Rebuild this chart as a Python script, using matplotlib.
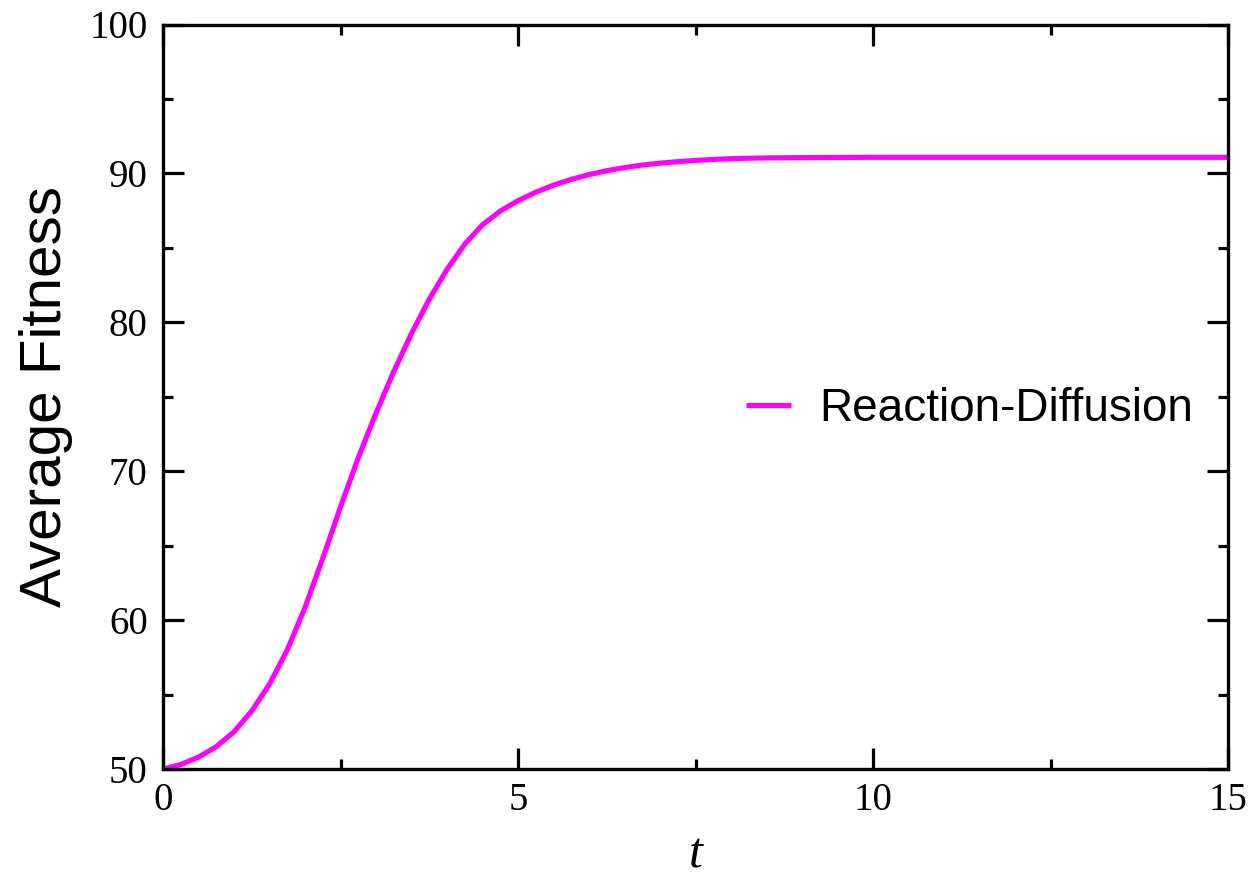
import matplotlib
matplotlib.use("Agg")
import matplotlib.pyplot as plt
from matplotlib.ticker import MultipleLocator

# Data
t_values = [0.0, 0.25, 0.5, 0.75, 1.0, 1.25, 1.5, 1.75, 2.0, 2.25, 2.5, 2.75,
            3.0, 3.25, 3.5, 3.75, 4.0, 4.25, 4.5, 4.75, 5.0, 5.25, 5.5, 5.75,
            6.0, 6.25, 6.5, 6.75, 7.0, 7.25, 7.5, 7.75, 8.0, 8.25, 8.5, 9.0,
            9.5, 10.0, 11.0, 12.0, 13.0, 14.0, 15.0]
fitness = [50.0, 50.3, 50.8, 51.5, 52.5, 53.9, 55.7, 58.0, 60.85, 64.15, 67.6, 70.9,
           73.9, 76.7, 79.25, 81.55, 83.55, 85.25, 86.55, 87.47, 88.17, 88.74, 89.21, 89.6,
           89.92, 90.18, 90.39, 90.56, 90.69, 90.79, 90.87, 90.94, 90.99, 91.02, 91.04, 91.06,
           91.07, 91.08, 91.08, 91.08, 91.08, 91.08, 91.08]
series_label = "Reaction-Diffusion"
x_ticks = [0, 5, 10, 15]
y_ticks = [50, 60, 70, 80, 90, 100]

fig = plt.figure(figsize=(12.53, 8.81), dpi=100)
ax = fig.add_axes([163/1253, 1 - 769/881, (1228-163)/1253, (769-24.5)/881])

ax.plot(t_values, fitness, color="#FF00FF", lw=3.7, label=series_label,
        solid_joinstyle="round", solid_capstyle="butt")

ax.set_xlim(0, 15)
ax.set_ylim(50, 100)
ax.set_xticks(x_ticks)
ax.set_yticks(y_ticks)
ax.xaxis.set_minor_locator(MultipleLocator(2.5))
ax.yaxis.set_minor_locator(MultipleLocator(5))

serif = "Liberation Serif"
ax.tick_params(which="both", direction="in", top=True, right=True, width=2.3)
ax.tick_params(which="major", length=15)
ax.tick_params(which="minor", length=7.5)
ax.tick_params(axis="x", which="major", pad=9)
ax.tick_params(axis="y", which="major", pad=11)
for lab in ax.get_xticklabels() + ax.get_yticklabels():
    lab.set_fontfamily(serif)
    lab.set_fontsize(28)

for sp in ax.spines.values():
    sp.set_linewidth(2.4)

ax.set_ylabel("Average Fitness", fontfamily="Liberation Sans", fontsize=42, labelpad=12)
ax.set_xlabel("t", fontfamily=serif, fontstyle="italic", fontsize=36, labelpad=10)

leg = ax.legend(loc="center left", bbox_to_anchor=(0.547, 0.484), frameon=False,
                borderpad=0, borderaxespad=0, handlelength=1.0, handletextpad=0.6,
                prop={"family": "Liberation Sans", "size": 33})

fig.savefig("out.png", dpi=100)
